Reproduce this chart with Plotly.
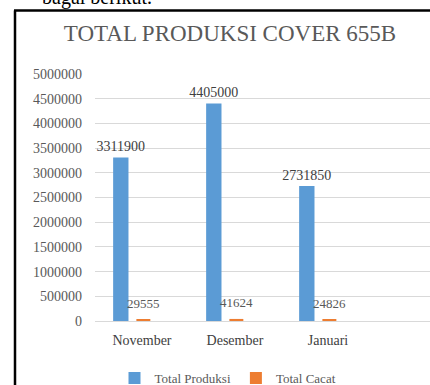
import plotly.graph_objects as go

months = ["November", "Desember", "Januari"]
total_produksi = [3311900, 4405000, 2731850]
total_cacat = [29555, 41624, 24826]
y_ticks = [0, 500000, 1000000, 1500000, 2000000, 2500000, 3000000,
           3500000, 4000000, 4500000, 5000000]

W, H = 430, 385
L, R, T, B = 95, 0, 74, 64
pw, ph = W - L - R, H - T - B


def px_x(p):
    return (p - L) / pw


def px_y(p):
    return (H - B - p) / ph


xpos = list(range(len(months)))
serif = "Liberation Serif, Times New Roman, serif"

fig = go.Figure()
fig.add_trace(go.Bar(
    x=xpos, y=total_produksi, name="Total Produksi",
    marker=dict(color="#5B9BD5", line=dict(width=0)),
    offset=-0.31, width=0.165,
    text=[str(v) for v in total_produksi], textposition="outside",
    constraintext="none",
    textfont=dict(family=serif, size=14, color="#404040"),
    cliponaxis=False,
))
fig.add_trace(go.Bar(
    x=xpos, y=total_cacat, name="Total Cacat",
    marker=dict(color="#ED7D31", line=dict(width=0)),
    offset=-0.06, width=0.15,
    cliponaxis=False,
))
for xi, v in zip(xpos, total_cacat):
    fig.add_annotation(x=xi + 0.015, y=v, xref="x", yref="y", text=str(v),
                       showarrow=False, yanchor="bottom", yshift=7,
                       font=dict(family=serif, size=13, color="#595959"))

# page frame (left and top edges visible) and document text above chart
fig.add_shape(type="line", xref="paper", yref="paper",
              x0=px_x(15), x1=px_x(15), y0=px_y(400), y1=px_y(10.5),
              line=dict(color="black", width=2.5), layer="below")
fig.add_shape(type="line", xref="paper", yref="paper",
              x0=px_x(14), x1=px_x(440), y0=px_y(10.5), y1=px_y(10.5),
              line=dict(color="black", width=2.5), layer="below")
fig.add_annotation(xref="paper", yref="paper", x=px_x(40), y=px_y(11),
                   xanchor="left", yanchor="bottom", text="bagai berikut.",
                   showarrow=False,
                   font=dict(family=serif, size=20, color="black"))

fig.update_layout(
    width=W, height=H,
    margin=dict(l=L, r=R, t=T, b=B, autoexpand=False),
    paper_bgcolor="white", plot_bgcolor="white",
    barmode="group",
    title=dict(text="TOTAL PRODUKSI COVER 655B", x=230 / W, xanchor="center",
               y=1 - 33 / H, yanchor="middle", xref="container", yref="container",
               font=dict(family=serif, size=23, color="#595959")),
    xaxis=dict(range=[-0.505, 3.097], tickvals=xpos, ticktext=months,
               showgrid=False, zeroline=False, showline=False, ticks="",
               ticklabelstandoff=9,
               tickfont=dict(family=serif, size=14, color="#404040")),
    yaxis=dict(range=[0, 5000000], tickvals=y_ticks,
               ticktext=[str(v) for v in y_ticks],
               showgrid=True, gridcolor="#D9D9D9", gridwidth=1,
               zeroline=True, zerolinecolor="#D9D9D9", zerolinewidth=1,
               showline=False, ticks="", ticklabelstandoff=12,
               tickfont=dict(family=serif, size=14, color="#595959")),
    legend=dict(orientation="h", x=228 / W, xanchor="center", xref="container",
                y=1 - 378 / H, yanchor="middle", yref="container",
                font=dict(family=serif, size=13, color="#595959"),
                itemwidth=30, traceorder="normal"),
    showlegend=True,
)
fig.write_html(
    "out.html",
    config={"displayModeBar": False},
    post_script=(
        "document.documentElement.style.margin='0';"
        "document.documentElement.style.overflow='hidden';"
        "document.body.style.margin='0';"
        "document.body.style.overflow='hidden';"
    ),
)
